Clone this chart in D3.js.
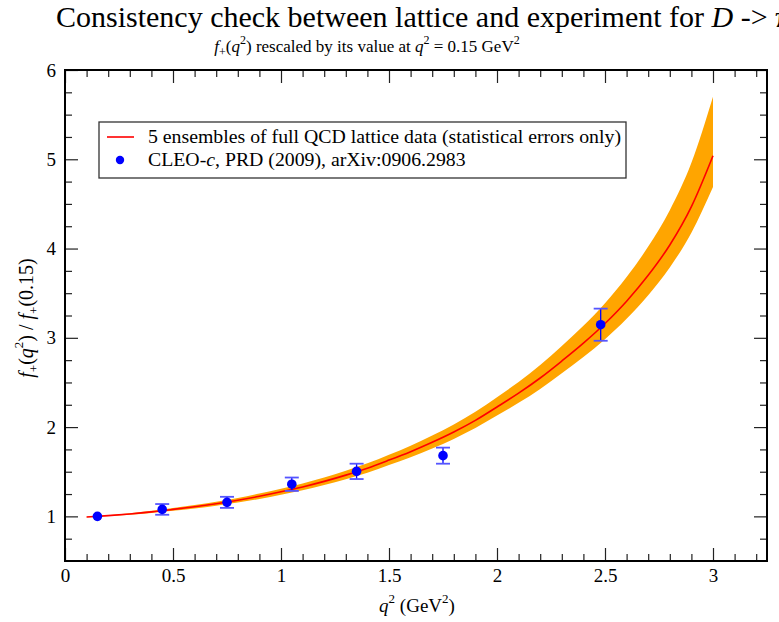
<!DOCTYPE html>
<html>
<head>
<meta charset="utf-8">
<script src="https://cdn.jsdelivr.net/npm/d3@7"></script>
<style>
  html, body { margin: 0; padding: 0; background: #fff; overflow: hidden; }
  svg text { font-family: "Liberation Serif", "Times New Roman", serif; fill: #000; }
</style>
</head>
<body>
<svg id="chart" width="779" height="622"></svg>
<script>
// ---- data ----
const curveQ2 = [0.1,0.2,0.3,0.4,0.5,0.6,0.7,0.8,0.9,1.0,1.1,1.2,1.3,1.4,1.5,1.6,1.7,1.8,1.9,2.0,2.1,2.2,2.3,2.4,2.5,2.6,2.7,2.8,2.9,3.0];
const curveMid = [0.993,1.008,1.027,1.050,1.078,1.108,1.142,1.180,1.225,1.275,1.330,1.392,1.462,1.540,1.630,1.725,1.830,1.945,2.075,2.225,2.380,2.550,2.740,2.940,3.160,3.410,3.700,4.040,4.470,5.040];
const curveUpper = [0.996,1.012,1.035,1.062,1.094,1.127,1.164,1.206,1.255,1.309,1.368,1.435,1.510,1.594,1.690,1.792,1.905,2.030,2.172,2.335,2.506,2.695,2.908,3.135,3.388,3.680,4.022,4.430,4.960,5.700];
const curveLower = [0.990,1.004,1.019,1.038,1.062,1.089,1.120,1.154,1.195,1.242,1.293,1.351,1.416,1.489,1.574,1.663,1.761,1.868,1.989,2.129,2.272,2.428,2.602,2.785,2.985,3.213,3.478,3.788,4.178,4.690];

const expQ2  = [0.15, 0.45, 0.75, 1.05, 1.35, 1.75, 2.48];
const expVal = [1.00, 1.078, 1.157, 1.36, 1.504, 1.68, 3.147];
const expErr = [0.0, 0.06, 0.062, 0.075, 0.086, 0.09, 0.18];

const xMajorTicks = [0, 0.5, 1, 1.5, 2, 2.5, 3];
const xTickLabels = ["0", "0.5", "1", "1.5", "2", "2.5", "3"];
const yMajorTicks = [1, 2, 3, 4, 5, 6];
const yTickLabels = ["1", "2", "3", "4", "5", "6"];

// ---- layout ----
const L = 65, R = 767, T = 70, B = 561;
const svg = d3.select("#chart");
const x = d3.scaleLinear().domain([0, 3.25]).range([L, R]);
const y = d3.scaleLinear().domain([0.5, 6]).range([B, T]);

svg.append("defs").append("clipPath").attr("id", "clip")
  .append("rect").attr("x", L).attr("y", T).attr("width", R - L).attr("height", B - T);

const plot = svg.append("g").attr("clip-path", "url(#clip)");

const pts = curveQ2.map((q, i) => ({q, m: curveMid[i], u: curveUpper[i], l: curveLower[i]}));

plot.append("path").datum(pts)
  .attr("fill", "#FFA500")
  .attr("d", d3.area().x(d => x(d.q)).y0(d => y(d.l)).y1(d => y(d.u)).curve(d3.curveMonotoneX));

plot.append("path").datum(pts)
  .attr("fill", "none").attr("stroke", "#FF0000").attr("stroke-width", 1.6)
  .attr("d", d3.line().x(d => x(d.q)).y(d => y(d.m)).curve(d3.curveMonotoneX));

// error bars
const exp = expQ2.map((q, i) => ({q, v: expVal[i], e: expErr[i]}));
const eb = plot.append("g").attr("stroke", "#0000FF").attr("stroke-width", 1.3);
exp.filter(d => d.e > 0).forEach(d => {
  eb.append("line").attr("x1", x(d.q)).attr("x2", x(d.q)).attr("y1", y(d.v - d.e)).attr("y2", y(d.v + d.e));
  eb.append("line").attr("x1", x(d.q) - 7).attr("x2", x(d.q) + 7).attr("y1", y(d.v - d.e)).attr("y2", y(d.v - d.e)).attr("stroke", "#5555FF").attr("stroke-width", 1.8);
  eb.append("line").attr("x1", x(d.q) - 7).attr("x2", x(d.q) + 7).attr("y1", y(d.v + d.e)).attr("y2", y(d.v + d.e)).attr("stroke", "#5555FF").attr("stroke-width", 1.8);
});
plot.append("g").selectAll("circle").data(exp).join("circle")
  .attr("cx", d => x(d.q)).attr("cy", d => y(d.v)).attr("r", 4.8).attr("fill", "#0000FF");

// ---- axes (ticks pointing inward on all four sides) ----
const xMinor = d3.range(0, 3.25001, 0.1).map(v => +v.toFixed(2)).filter(v => !xMajorTicks.some(t => Math.abs(t - v) < 1e-6));
const yMinor = d3.range(0.75, 6, 0.25).filter(v => !yMajorTicks.includes(v));

function styleAxis(g) {
  g.select(".domain").remove();
  g.selectAll("line").attr("stroke", "#222").attr("stroke-width", 1.2);
  g.selectAll("text").style("font-family", "Liberation Serif, serif").style("font-size", "19px");
}

svg.append("g").attr("transform", `translate(0,${B})`)
  .call(d3.axisBottom(x).tickValues(xMajorTicks).tickSize(-13).tickPadding(8).tickFormat((d, i) => xTickLabels[i]))
  .call(styleAxis);
svg.append("g").attr("transform", `translate(0,${B})`)
  .call(d3.axisBottom(x).tickValues(xMinor).tickSize(-7).tickFormat(""))
  .call(styleAxis);
svg.append("g").attr("transform", `translate(0,${T})`)
  .call(d3.axisTop(x).tickValues(xMajorTicks).tickSize(-13).tickFormat(""))
  .call(styleAxis);
svg.append("g").attr("transform", `translate(0,${T})`)
  .call(d3.axisTop(x).tickValues(xMinor).tickSize(-7).tickFormat(""))
  .call(styleAxis);

svg.append("g").attr("transform", `translate(${L},0)`)
  .call(d3.axisLeft(y).tickValues(yMajorTicks).tickSize(-13).tickPadding(9).tickFormat((d, i) => yTickLabels[i]))
  .call(styleAxis);
svg.append("g").attr("transform", `translate(${L},0)`)
  .call(d3.axisLeft(y).tickValues(yMinor).tickSize(-7).tickFormat(""))
  .call(styleAxis);
svg.append("g").attr("transform", `translate(${R},0)`)
  .call(d3.axisRight(y).tickValues(yMajorTicks).tickSize(-13).tickFormat(""))
  .call(styleAxis);
svg.append("g").attr("transform", `translate(${R},0)`)
  .call(d3.axisRight(y).tickValues(yMinor).tickSize(-7).tickFormat(""))
  .call(styleAxis);

svg.append("rect").attr("x", L).attr("y", T).attr("width", R - L).attr("height", B - T)
  .attr("fill", "none").attr("stroke", "#000").attr("stroke-width", 2);

// ---- legend ----
const lg = svg.append("g");
lg.append("rect").attr("x", 99).attr("y", 122).attr("width", 527).attr("height", 56)
  .attr("fill", "#fff").attr("stroke", "#333").attr("stroke-width", 1.3);
lg.append("line").attr("x1", 107).attr("x2", 134).attr("y1", 137).attr("y2", 137)
  .attr("stroke", "#FF0000").attr("stroke-width", 1.6);
lg.append("text").attr("x", 148).attr("y", 143).style("font-size", "19.8px")
  .text("5 ensembles of full QCD lattice data (statistical errors only)");
lg.append("circle").attr("cx", 120).attr("cy", 160).attr("r", 4.2).attr("fill", "#0000FF");
const t2 = lg.append("text").attr("x", 148).attr("y", 166).style("font-size", "19.8px");
t2.append("tspan").text("CLEO-");
t2.append("tspan").style("font-style", "italic").text("c");
t2.append("tspan").text(", PRD (2009), arXiv:0906.2983");

// ---- titles ----
const title = svg.append("text").attr("x", 56).attr("y", 27).style("font-size", "30px");
title.append("tspan").text("Consistency check between lattice and experiment for ");
title.append("tspan").style("font-style", "italic").text("D");
title.append("tspan").text(" -> π");

const sub = svg.append("text").attr("x", 367).attr("y", 52).attr("text-anchor", "middle").style("font-size", "17px");
sub.append("tspan").style("font-style", "italic").text("f");
sub.append("tspan").attr("dy", 4).style("font-size", "12px").text("+");
sub.append("tspan").attr("dy", -4).text("(");
sub.append("tspan").style("font-style", "italic").text("q");
sub.append("tspan").attr("dy", -8).style("font-size", "12px").text("2");
sub.append("tspan").attr("dy", 8).text(") rescaled by its value at ");
sub.append("tspan").style("font-style", "italic").text("q");
sub.append("tspan").attr("dy", -8).style("font-size", "12px").text("2");
sub.append("tspan").attr("dy", 8).text(" = 0.15 GeV");
sub.append("tspan").attr("dy", -8).style("font-size", "12px").text("2");

// x label
const xl = svg.append("text").attr("x", 417).attr("y", 612).attr("text-anchor", "middle").style("font-size", "19px");
xl.append("tspan").style("font-style", "italic").text("q");
xl.append("tspan").attr("dy", -9).style("font-size", "13px").text("2");
xl.append("tspan").attr("dy", 9).text(" (GeV");
xl.append("tspan").attr("dy", -9).style("font-size", "13px").text("2");
xl.append("tspan").attr("dy", 9).text(")");

// y label
const yl = svg.append("text").attr("transform", "translate(33,318) rotate(-90)").attr("text-anchor", "middle").style("font-size", "20px");
yl.append("tspan").style("font-style", "italic").text("f");
yl.append("tspan").attr("dy", 5).style("font-size", "13px").text("+");
yl.append("tspan").attr("dy", -5).text("(");
yl.append("tspan").style("font-style", "italic").text("q");
yl.append("tspan").attr("dy", -10).style("font-size", "13px").text("2");
yl.append("tspan").attr("dy", 10).text(") / ");
yl.append("tspan").style("font-style", "italic").text("f");
yl.append("tspan").attr("dy", 5).style("font-size", "13px").text("+");
yl.append("tspan").attr("dy", -5).text("(0.15)");
</script>
</body>
</html>
